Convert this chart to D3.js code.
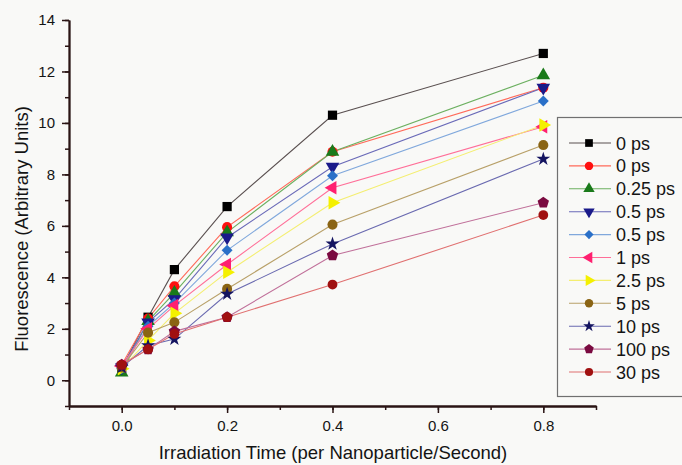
<!DOCTYPE html>
<html>
<head>
<meta charset="utf-8">
<script src="https://cdn.jsdelivr.net/npm/d3@7/dist/d3.min.js"></script>
<style>
  html, body { margin: 0; padding: 0; background: #f9f9f7; }
  svg { display: block; font-family: "Liberation Sans", Arial, sans-serif; }
</style>
</head>
<body>
<svg id="chart" width="682" height="465"></svg>
<script>
// Irradiation time (per nanoparticle / second)
const times = [0, 0.05, 0.1, 0.2, 0.4, 0.8];

// Fluorescence for each pulse delay
const fl0psA  = [0.45, 2.45, 4.30, 6.75, 10.30, 12.70];
const fl0psB  = [0.60, 2.40, 3.65, 5.95, 8.88, 11.37];
const fl025ps = [0.30, 2.30, 3.40, 5.75, 8.88, 11.85];
const fl05psA = [0.50, 2.25, 3.15, 5.55, 8.30, 11.37];
const fl05psB = [0.45, 2.10, 3.00, 5.05, 7.95, 10.85];
const fl1ps   = [0.55, 2.00, 2.90, 4.50, 7.48, 9.85];
const fl25ps  = [0.45, 1.55, 2.60, 4.20, 6.90, 9.92];
const fl5ps   = [0.50, 1.85, 2.25, 3.55, 6.05, 9.14];
const fl10ps  = [0.50, 1.35, 1.60, 3.35, 5.30, 8.60];
const fl100ps = [0.60, 1.20, 1.90, 2.45, 4.85, 6.90];
const fl30ps  = [0.60, 1.20, 1.80, 2.45, 3.72, 6.42];

const seriesNames = ["0 ps", "0 ps", "0.25 ps", "0.5 ps", "0.5 ps", "1 ps",
                     "2.5 ps", "5 ps", "10 ps", "100 ps", "30 ps"];
const seriesValues = [fl0psA, fl0psB, fl025ps, fl05psA, fl05psB, fl1ps,
                      fl25ps, fl5ps, fl10ps, fl100ps, fl30ps];

const xTicks = [0.0, 0.2, 0.4, 0.6, 0.8];
const yTicks = [0, 2, 4, 6, 8, 10, 12, 14];

// Pentagon marker as a custom d3 symbol type
const symbolPentagon = {
  draw(ctx, size) {
    const r = Math.sqrt(size / 2.378);
    for (let i = 0; i < 5; i++) {
      const a = -Math.PI / 2 + i * 2 * Math.PI / 5;
      const px = r * Math.cos(a), py = r * Math.sin(a);
      if (i === 0) ctx.moveTo(px, py); else ctx.lineTo(px, py);
    }
    ctx.closePath();
  }
};

// Marker style per series: fill colour, line colour, symbol, rotation, size
const styles = [
  { fill: "#000000", line: "#5a5050", sym: d3.symbolSquare,   rot: 0,   size: 85 },
  { fill: "#ff1010", line: "#ff6a5a", sym: d3.symbolCircle,   rot: 0,   size: 80 },
  { fill: "#1a7a1a", line: "#6cb060", sym: d3.symbolTriangle, rot: 0,   size: 80 },
  { fill: "#1a1a8a", line: "#6a6ab8", sym: d3.symbolTriangle, rot: 180, size: 80 },
  { fill: "#2a70c8", line: "#80a8dc", sym: d3.symbolSquare,   rot: 45,  size: 60 },
  { fill: "#ff2070", line: "#ff6e98", sym: d3.symbolTriangle, rot: -90, size: 80 },
  { fill: "#f4f000", line: "#f4ee70", sym: d3.symbolTriangle, rot: 90,  size: 80 },
  { fill: "#8a6414", line: "#b8a068", sym: d3.symbolCircle,   rot: 0,   size: 80 },
  { fill: "#141460", line: "#6a6ab0", sym: d3.symbolStar,     rot: 0,   size: 60 },
  { fill: "#7a0a40", line: "#c0709a", sym: symbolPentagon,    rot: 0,   size: 85 },
  { fill: "#a01010", line: "#e07070", sym: d3.symbolCircle,   rot: 0,   size: 75 }
];

const svg = d3.select("#chart");
const axisColor = "#2a1414";
const textColor = "#141414";

const x = d3.scaleLinear().domain([-0.1, 0.9]).range([69, 596]);
const y = d3.scaleLinear().domain([-1, 14]).range([406, 20]);

// Lines
const line = d3.line().x((d, i) => x(times[i])).y(d => y(d));
const plot = svg.append("g");
seriesValues.forEach((vals, k) => {
  plot.append("path")
    .datum(vals)
    .attr("d", line)
    .attr("fill", "none")
    .attr("stroke", styles[k].line)
    .attr("stroke-width", 1.1);
});

// Markers
seriesValues.forEach((vals, k) => {
  const st = styles[k];
  plot.selectAll(null)
    .data(vals)
    .join("path")
    .attr("d", d3.symbol(st.sym, st.size))
    .attr("transform", (d, i) => `translate(${x(times[i])},${y(d)}) rotate(${st.rot})`)
    .attr("fill", st.fill);
});

// Axes
const xAxisMinor = d3.axisBottom(x).tickValues(d3.range(-0.1, 0.91, 0.1).map(v => +v.toFixed(2)))
  .tickSize(4).tickFormat("").tickSizeOuter(0);
const xAxis = d3.axisBottom(x).tickValues(xTicks).tickSize(7).tickSizeOuter(0)
  .tickFormat(d3.format(".1f")).tickPadding(7);
const yAxisMinor = d3.axisLeft(y).tickValues(d3.range(-1, 14.5, 1))
  .tickSize(4).tickFormat("").tickSizeOuter(0);
const yAxis = d3.axisLeft(y).tickValues(yTicks).tickSize(7).tickSizeOuter(0).tickPadding(7);

function styleAxis(g) {
  g.select(".domain").attr("stroke", axisColor).attr("stroke-width", 1.8);
  g.selectAll(".tick line").attr("stroke", axisColor).attr("stroke-width", 1.5);
  g.selectAll(".tick text").attr("fill", textColor).attr("font-size", 15)
    .attr("font-family", "'Liberation Sans', Arial, sans-serif");
}

svg.append("g").attr("transform", `translate(0,${y(-1)})`).call(xAxisMinor).call(styleAxis);
svg.append("g").attr("transform", `translate(0,${y(-1)})`).call(xAxis).call(styleAxis);
svg.append("g").attr("transform", `translate(${x(-0.1)},0)`).call(yAxisMinor).call(styleAxis);
svg.append("g").attr("transform", `translate(${x(-0.1)},0)`).call(yAxis).call(styleAxis);

// Axis titles
svg.append("text")
  .attr("x", 333).attr("y", 459)
  .attr("text-anchor", "middle")
  .attr("font-size", 18.5).attr("fill", textColor)
  .text("Irradiation Time (per Nanoparticle/Second)");

svg.append("text")
  .attr("transform", `translate(28,229) rotate(-90)`)
  .attr("text-anchor", "middle")
  .attr("font-size", 18.5).attr("fill", textColor)
  .text("Fluorescence (Arbitrary Units)");

// Legend
const legend = svg.append("g");
legend.append("rect")
  .attr("x", 557.5).attr("y", 117.5).attr("width", 140).attr("height", 279)
  .attr("fill", "#f9f9f7").attr("stroke", "#707070").attr("stroke-width", 1.2);

seriesNames.forEach((name, k) => {
  const st = styles[k];
  const ry = 143 + k * 22.9;
  legend.append("line")
    .attr("x1", 569).attr("x2", 611).attr("y1", ry).attr("y2", ry)
    .attr("stroke", st.line).attr("stroke-width", 1.1);
  legend.append("path")
    .attr("d", d3.symbol(st.sym, st.size * 0.7))
    .attr("transform", `translate(589,${ry}) rotate(${st.rot})`)
    .attr("fill", st.fill);
  legend.append("text")
    .attr("x", 616).attr("y", ry + 6.5)
    .attr("font-size", 18).attr("fill", textColor)
    .text(name);
});
</script>
</body>
</html>
